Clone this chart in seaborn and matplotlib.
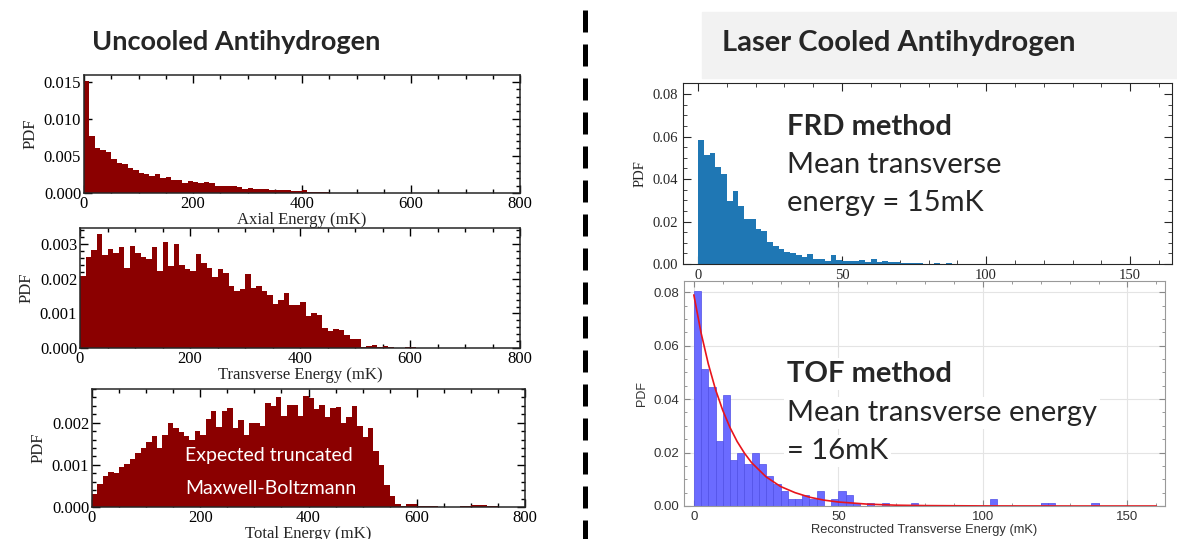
"""
Antihydrogen energy distributions: uncooled (left) vs laser cooled (right)
"""

import numpy as np
import pandas as pd
import matplotlib
matplotlib.use('Agg')
import matplotlib.pyplot as plt
import seaborn as sns
from matplotlib.lines import Line2D
from matplotlib.patches import Rectangle
from matplotlib.ticker import MultipleLocator, FormatStrFormatter

sns.set_style("ticks")
plt.rcParams['font.family'] = ['Liberation Serif', 'DejaVu Serif']

# ─────────────────────────────────────────────
# DATA (bin heights)
# ─────────────────────────────────────────────
# left column: 10 mK bins starting at 0, PDF values in units of 1e-3
axial_pdf = [15.1, 7.7, 6.0, 5.8, 5.5, 4.6, 4.0, 3.9, 3.4, 3.1, 2.7, 2.6, 2.3, 2.5,
             2.0, 2.2, 1.8, 1.7, 1.4, 1.6, 1.5, 1.4, 1.5, 1.3, 1.0, 0.9, 0.9, 0.9,
             0.8, 0.6, 0.7, 0.6, 0.6, 0.5, 0.4, 0.4, 0.4, 0.4, 0.3, 0.3, 0.4, 0.15,
             0.15, 0.1, 0.1, 0.05, 0.05, 0.03]
transverse_pdf = [2.07, 2.62, 2.84, 3.31, 2.68, 2.86, 2.75, 2.93, 2.31, 2.96, 2.74,
                  2.62, 2.57, 2.91, 2.23, 3.07, 2.37, 3.00, 2.40, 2.29, 2.22, 2.72,
                  2.45, 2.32, 2.06, 2.28, 2.18, 1.79, 1.66, 1.71, 2.13, 1.73, 1.79,
                  1.64, 1.54, 1.27, 1.39, 1.60, 1.24, 1.23, 1.32, 0.93, 1.00, 0.95,
                  0.59, 0.50, 0.56, 0.52, 0.38, 0.25, 0.25, 0.02, 0.06, 0.08, 0.02,
                  0.07, 0.02, 0.01, 0.01, 0.03, 0.02, 0.01, 0.005, 0.005, 0.01,
                  0.005, 0.005, 0.01, 0.005, 0.01]
total_pdf = [0.31, 0.54, 0.73, 0.83, 0.80, 0.94, 1.02, 1.14, 1.28, 1.41, 1.54, 1.69,
             1.41, 1.70, 2.00, 1.87, 1.78, 1.69, 1.58, 1.80, 1.70, 2.09, 2.28, 1.89,
             2.28, 2.35, 1.88, 2.07, 1.72, 2.00, 2.00, 1.92, 2.47, 2.39, 2.61, 2.16,
             2.41, 2.43, 2.17, 2.64, 2.59, 2.32, 2.42, 2.13, 2.36, 2.38, 1.99, 2.13,
             2.39, 1.93, 1.66, 1.87, 1.34, 1.00, 0.53, 0.25, 0.07, 0.03, 0.07, 0.06,
             0.03, 0.03, 0.02, 0.03, 0.01, 0.0, 0.0, 0.0, 0.02, 0.03, 0.05, 0.04,
             0.04, 0.03, 0.02]
LEFT_BIN = 10  # mK

# right column
frd_pdf = [0.0586, 0.0512, 0.0522, 0.0456, 0.0423, 0.0298, 0.0342, 0.0273, 0.0212,
           0.0212, 0.0163, 0.0156, 0.0105, 0.0087, 0.0072, 0.0058, 0.0053, 0.0044,
           0.0031, 0.0047, 0.0023, 0.0023, 0.0016, 0.0041, 0.0019, 0.0014, 0.0013,
           0.0013, 0.0017, 0.0009, 0.0022, 0.0011, 0.0014, 0.0009, 0.0008, 0.0005,
           0.0005, 0.0003, 0.0004, 0.0002, 0.0, 0.0005, 0.0, 0.0004]
FRD_BIN = 2.0  # mK

tof_pdf = [0.0803, 0.0514, 0.0444, 0.0243, 0.0416, 0.0172, 0.0199, 0.0157, 0.0199,
           0.0157, 0.0113, 0.0083, 0.0055, 0.0028, 0.0028, 0.0040, 0.0028, 0.0055,
           0.0, 0.0028, 0.0055, 0.0040, 0.0013, 0.0, 0.0013, 0.0, 0.0013, 0.0, 0.0,
           0.0, 0.0013, 0.0, 0.0, 0.0, 0.0, 0.0, 0.0, 0.0, 0.0, 0.0, 0.0, 0.0028,
           0.0, 0.0, 0.0, 0.0, 0.0, 0.0, 0.0013, 0.0013, 0.0, 0.0, 0.0, 0.0, 0.0,
           0.0013]
TOF_BIN = 2.5  # mK

# red fit curve on the TOF panel
fit_energy = [0, 2.5, 5, 7.5, 10, 12.5, 15, 17.5, 20, 25, 30, 35, 40, 45, 50, 60,
              70, 80, 100, 130, 160]
fit_pdf = [0.079, 0.0648, 0.0532, 0.0436, 0.0358, 0.0294, 0.0241, 0.0198, 0.0162,
           0.0109, 0.0073, 0.0050, 0.0033, 0.0022, 0.0015, 0.0007, 0.0003, 0.00015,
           0.00003, 0.0, 0.0]

# ─────────────────────────────────────────────
# FIGURE
# ─────────────────────────────────────────────
W, H = 1177, 539
fig = plt.figure(figsize=(W / 100, H / 100), dpi=100)


def px_axes(l, t, r, b):
    ax = fig.add_axes([l / W, 1 - b / H, (r - l) / W, (b - t) / H])
    ax.set_facecolor('none')
    return ax


def hist(ax, heights, width, scale=1.0, **kw):
    heights = [h * scale for h in heights]
    edges = [i * width for i in range(len(heights) + 1)]
    df = pd.DataFrame({'energy': [e + width / 2 for e in edges[:-1]], 'pdf': heights})
    sns.histplot(data=df, x='energy', weights='pdf', bins=edges, ax=ax,
                 stat='count', alpha=1, **kw)


DARK_RED = '#8B0000'


def style_left(ax, ymax, ymajor, yminor, xlabel):
    ax.set_xlim(0, 800)
    ax.set_ylim(0, ymax)
    ax.xaxis.set_major_locator(MultipleLocator(200))
    ax.xaxis.set_minor_locator(MultipleLocator(50))
    ax.yaxis.set_major_locator(MultipleLocator(ymajor))
    ax.yaxis.set_minor_locator(MultipleLocator(yminor))
    ax.yaxis.set_major_formatter(FormatStrFormatter('%.3f'))
    ax.tick_params(which='both', direction='in', top=True, right=True, labelsize=12,
                   width=1.0, colors='black', pad=2)
    ax.tick_params(which='major', length=6)
    ax.tick_params(which='minor', length=3)
    for s in ax.spines.values():
        s.set_linewidth(1.1)
    ax.set_xlabel(xlabel, fontsize=12, labelpad=0)
    ax.set_ylabel("PDF", fontsize=12)


# --- left column ---
ax1 = px_axes(84, 75, 520, 193)
hist(ax1, axial_pdf, LEFT_BIN, 1e-3, color=DARK_RED, linewidth=0)
style_left(ax1, 0.0159, 0.005, 0.001, "Axial Energy (mK)")

ax2 = px_axes(80, 228, 520, 348)
hist(ax2, transverse_pdf, LEFT_BIN, 1e-3, color=DARK_RED, linewidth=0)
style_left(ax2, 0.00347, 0.001, 0.0002, "Transverse Energy (mK)")

ax3 = px_axes(92, 389, 525, 507)
hist(ax3, total_pdf, LEFT_BIN, 1e-3, color=DARK_RED, linewidth=0)
style_left(ax3, 0.0028, 0.001, 0.0002, "Total Energy (mK)")

# --- right column: FRD ---
ax4 = px_axes(683, 83, 1172, 264)
hist(ax4, frd_pdf, FRD_BIN, color='#1f77b4', linewidth=0)
ax4.set_xlim(-5.2, 164.5)
ax4.set_ylim(0, 0.0852)
ax4.xaxis.set_major_locator(MultipleLocator(50))
ax4.xaxis.set_minor_locator(MultipleLocator(10))
ax4.yaxis.set_major_locator(MultipleLocator(0.02))
ax4.yaxis.set_minor_locator(MultipleLocator(0.005))
ax4.yaxis.set_major_formatter(FormatStrFormatter('%.2f'))
ax4.tick_params(which='both', direction='in', top=True, right=True, labelsize=10.5)
ax4.tick_params(which='major', length=6)
ax4.tick_params(which='minor', length=3)
ax4.set_xlabel("")
ax4.set_ylabel("PDF", fontsize=10.5)

# --- right column: TOF ---
ax5 = px_axes(684, 281, 1165, 506)
ax5.set_facecolor('white')
ax5.grid(True, color='#e4e4e4', linewidth=0.8)
ax5.set_axisbelow(True)
hist(ax5, tof_pdf, TOF_BIN, color='#6b6bff', edgecolor='#4f4fe6', linewidth=0.5)
sns.lineplot(x=fit_energy, y=fit_pdf, ax=ax5, color='#e8141c', linewidth=1.2)
ax5.set_xlim(-3.4, 163)
ax5.set_ylim(0, 0.0842)
ax5.xaxis.set_major_locator(MultipleLocator(50))
ax5.xaxis.set_minor_locator(MultipleLocator(10))
ax5.yaxis.set_major_locator(MultipleLocator(0.02))
ax5.yaxis.set_minor_locator(MultipleLocator(0.005))
ax5.yaxis.set_major_formatter(FormatStrFormatter('%.2f'))
ax5.tick_params(which='both', direction='in', top=True, right=True, labelsize=9.5,
                colors='#888888', labelcolor='#333333', labelfontfamily='Liberation Sans')
ax5.tick_params(which='major', length=4)
ax5.tick_params(which='minor', length=2)
for s in ax5.spines.values():
    s.set_color('#999999')
ax5.set_xlabel("Reconstructed Transverse Energy (mK)", fontsize=9.3,
               family='Liberation Sans', color='#333333', labelpad=1)
ax5.set_ylabel("PDF", fontsize=9, family='Liberation Sans', color='#333333')

# ─────────────────────────────────────────────
# DECORATION
# ─────────────────────────────────────────────
fig.add_artist(Rectangle((702 / W, 1 - 78 / H), (W - 702) / W, 66 / H,
                         transform=fig.transFigure, color='#f2f2f2', zorder=0))
fig.add_artist(Line2D([585 / W, 585 / W], [1 - 10 / H, 0], transform=fig.transFigure,
                      color='black', linewidth=3.6, linestyle=(0, (4.4, 2.4)),
                      solid_capstyle='butt', dash_capstyle='butt'))

SANS = ['Lato', 'DejaVu Sans']
fig.text(92 / W, 1 - 42 / H, "Uncooled Antihydrogen", family=SANS, fontsize=19.5,
         fontweight='bold', va='center')
fig.text(722 / W, 1 - 43 / H, "Laser Cooled Antihydrogen", family=SANS, fontsize=21,
         fontweight='bold', va='center')

fig.text(185 / W, 1 - 455 / H, "Expected truncated", family=SANS, fontsize=14,
         color='white', va='center')
fig.text(185 / W, 1 - 488 / H, "Maxwell-Boltzmann", family=SANS, fontsize=14,
         color='white', va='center')

fig.text(787 / W, 1 - 127 / H, "FRD method", family=SANS, fontsize=21,
         fontweight='bold', va='center')
fig.text(787 / W, 1 - 165 / H, "Mean transverse", family=SANS, fontsize=21, va='center')
fig.text(787 / W, 1 - 203 / H, "energy = 15mK", family=SANS, fontsize=21, va='center')

box = dict(facecolor='white', edgecolor='none', pad=2)
fig.text(787 / W, 1 - 374 / H, "TOF method", family=SANS, fontsize=21,
         fontweight='bold', va='center', bbox=box)
fig.text(787 / W, 1 - 413 / H, "Mean transverse energy", family=SANS, fontsize=21,
         va='center', bbox=box)
fig.text(787 / W, 1 - 451 / H, "= 16mK", family=SANS, fontsize=21, va='center',
         bbox=box)

plt.savefig("out.png", dpi=100)
plt.close()
